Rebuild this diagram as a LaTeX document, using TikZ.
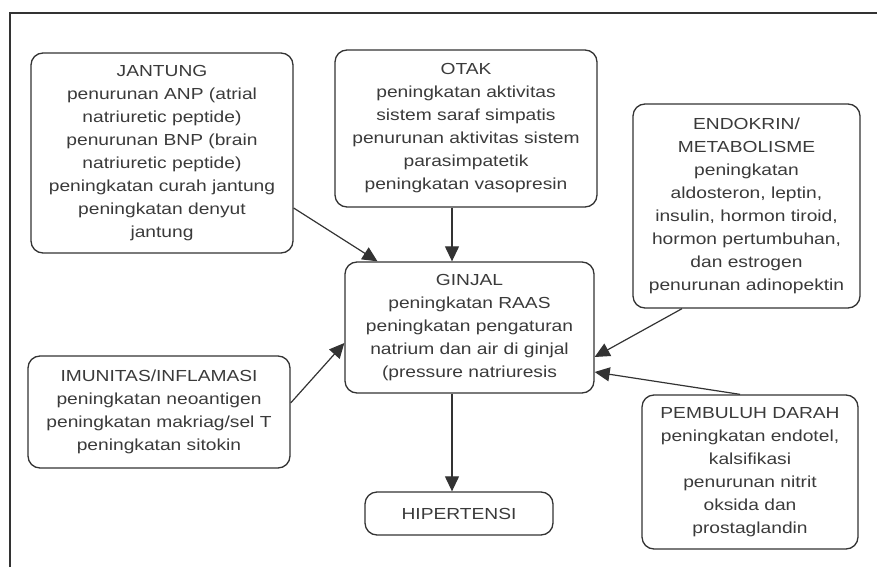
\documentclass[tikz,border=0pt]{standalone}
\usepackage{fontspec}
\setmainfont{Liberation Sans}[FakeStretch=1.2]
\usetikzlibrary{positioning, calc, arrows.meta}
\definecolor{Garis}{HTML}{333333}
\definecolor{Teks}{HTML}{3A3A3A}
\tikzset{
    kotak/.style={rectangle, rounded corners=12pt, draw=Garis, line width=1.3pt, text=Teks, align=center, inner sep=4pt, font=\fontsize{16}{23}\selectfont},
    panah/.style={-{Triangle[length=15pt, width=14pt]}, line width=1.2pt, color=Garis},
}
\begin{document}
\begin{tikzpicture}[x=1pt, y=-1pt]
                \useasboundingbox (0,0) rectangle (877,567);
                % Bingkai
                \draw[line width=1.8pt, Garis] (10,567) -- (10,13) -- (877,13);

                % Kotak-kotak
                \node[kotak, minimum width=262pt, minimum height=200pt] (jantung) at (162,153)
                    {JANTUNG\\penurunan ANP (atrial\\natriuretic peptide)\\penurunan BNP (brain\\natriuretic peptide)\\peningkatan curah jantung\\peningkatan denyut\\jantung};
                \node[kotak, minimum width=262pt, minimum height=157pt] (otak) at (466,128.5)
                    {OTAK\\peningkatan aktivitas\\sistem saraf simpatis\\penurunan aktivitas sistem\\parasimpatetik\\peningkatan vasopresin};
                \node[kotak, minimum width=227pt, minimum height=204pt] (endokrin) at (746.5,206)
                    {ENDOKRIN/\\METABOLISME\\peningkatan\\aldosteron, leptin,\\insulin, hormon tiroid,\\hormon pertumbuhan,\\dan estrogen\\penurunan adinopektin};
                \node[kotak, minimum width=249pt, minimum height=131pt] (ginjal) at (469.5,327.5)
                    {GINJAL\\peningkatan RAAS\\peningkatan pengaturan\\natrium dan air di ginjal\\(pressure natriuresis};
                \node[kotak, minimum width=262pt, minimum height=112pt] (imunitas) at (159,412)
                    {IMUNITAS/INFLAMASI\\peningkatan neoantigen\\peningkatan makriag/sel T\\peningkatan sitokin};
                \node[kotak, minimum width=216pt, minimum height=154pt] (pembuluh) at (750,472)
                    {PEMBULUH DARAH\\peningkatan endotel,\\kalsifikasi\\penurunan nitrit\\oksida dan\\prostaglandin};
                \node[kotak, minimum width=188pt, minimum height=43pt] (hipertensi) at (459,513.5) {HIPERTENSI};

                % Panah
                \draw[panah] ([yshift=-55pt]jantung.east) -- ([xshift=-92pt]ginjal.north);
                \draw[panah] ([xshift=-14pt]otak.south) -- ([xshift=-14pt]otak.south |- ginjal.north);
                \draw[panah] ([xshift=-64.5pt]endokrin.south) -- ([yshift=-29.5pt]ginjal.east);
                \draw[panah] ([yshift=9pt]imunitas.east) -- ([yshift=-15.5pt]ginjal.west);
                \draw[panah] ([xshift=-10pt]pembuluh.north) -- ([yshift=-44.5pt]ginjal.east);
                \draw[panah] ([xshift=-17.5pt]ginjal.south) -- ([xshift=-17.5pt]ginjal.south |- hipertensi.north);
            \end{tikzpicture}
\end{document}
